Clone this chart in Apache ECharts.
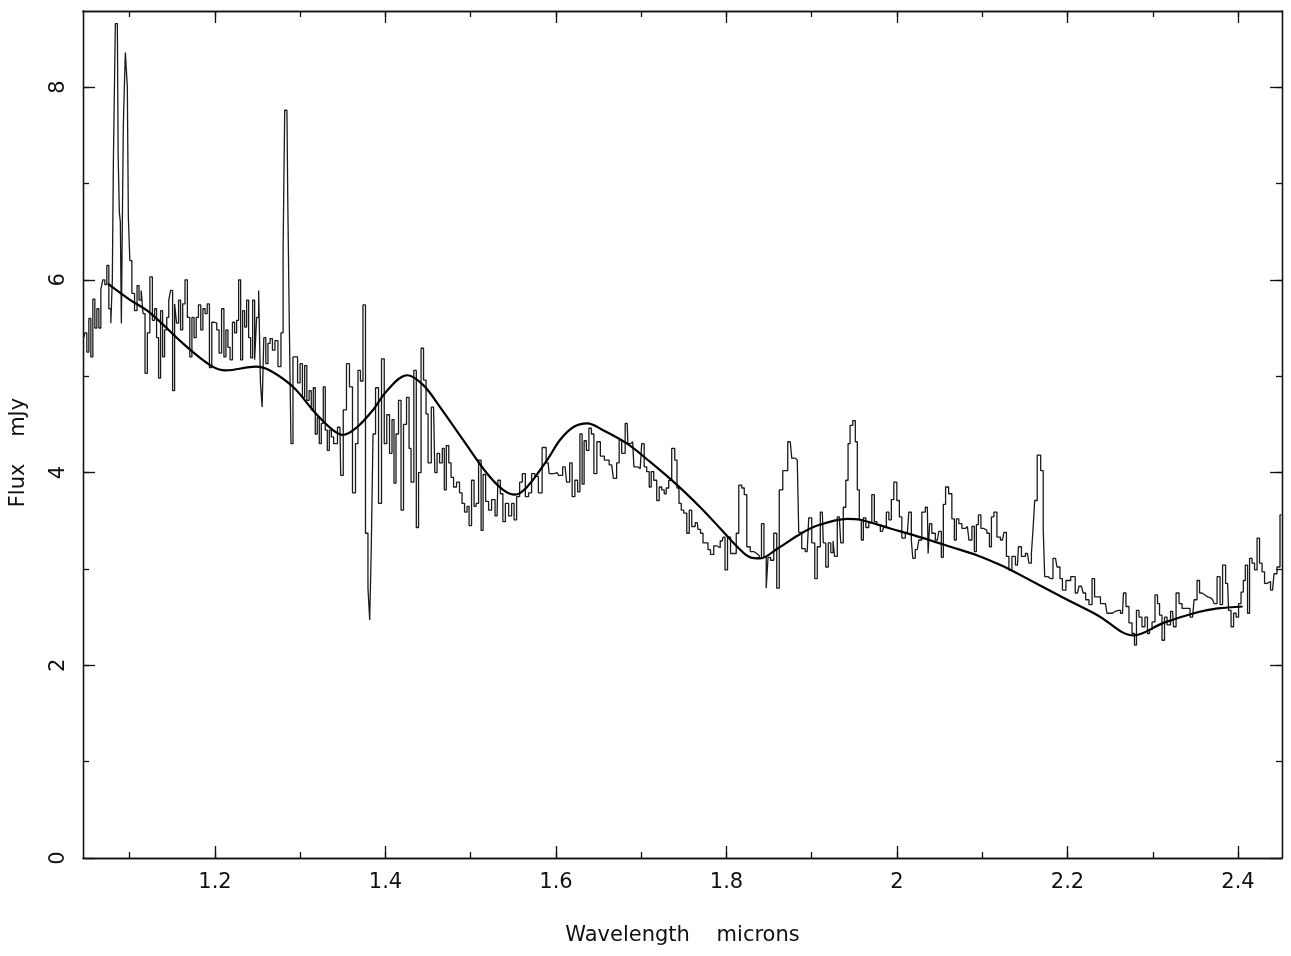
<!DOCTYPE html>
<html>
<head>
<meta charset="utf-8">
<script src="https://cdn.jsdelivr.net/npm/echarts@6/dist/echarts.min.js"></script>
<style>
html,body{margin:0;padding:0;background:#fff;}
#chart{width:1291px;height:956px;}
</style>
</head>
<body>
<div id="chart"></div>
<script>
// Observed spectrum (histogram bins): wavelength (microns) and flux (mJy)
const specWave = [
1.0462,1.0485,1.0509,1.0532,1.0556,1.0579,1.0603,1.0626,1.0650,1.0673,1.0696,1.0720,1.0743,1.0767,1.0790,1.0802,
1.0814,1.0826,1.0837,1.0855,1.0873,1.0884,1.0896,1.0908,1.0919,1.0931,1.0943,1.0955,1.0966,1.0978,1.0990,1.1013,1.1037,
1.1076,1.1096,1.1123,1.1146,1.1166,1.1193,1.1221,1.1252,1.1280,1.1303,1.1327,1.1350,1.1374,1.1397,1.1421,1.1448,1.1468,
1.1491,1.1515,1.1538,1.1561,1.1585,1.1608,1.1635,1.1662,1.1691,1.1718,1.1741,1.1768,1.1792,1.1820,1.1847,1.1870,1.1897,
1.1921,1.1949,1.1976,1.2008,1.2034,1.2062,1.2093,1.2117,1.2140,1.2164,1.2191,1.2219,1.2242,1.2266,1.2289,1.2313,1.2336,
1.2360,1.2383,1.2407,1.2430,1.2454,1.2477,1.2500,1.2524,1.2543,1.2563,1.2583,1.2610,1.2633,1.2660,1.2688,1.2719,1.2759,
1.2789,1.2809,1.2827,1.2844,1.2862,1.2880,1.2903,1.2927,1.2953,1.2985,1.3012,1.3040,1.3064,1.3091,1.3118,1.3141,1.3165,
1.3188,1.3212,1.3235,1.3259,1.3282,1.3306,1.3329,1.3353,1.3376,1.3408,1.3466,1.3484,1.3525,1.3560,1.3595,1.3631,1.3666,
1.3689,1.3724,1.3748,1.3783,1.3806,1.3824,1.3842,1.3866,1.3901,1.3936,1.3971,1.4000,1.4030,1.4065,1.4088,1.4112,1.4135,
1.4171,1.4194,1.4229,1.4265,1.4288,1.4312,1.4353,1.4370,1.4406,1.4429,1.4464,1.4488,1.4511,1.4564,1.4593,1.4617,1.4652,
1.4681,1.4699,1.4728,1.4757,1.4781,1.4816,1.4851,1.4886,1.4910,1.4945,1.4969,1.4992,1.5027,1.5051,1.5074,1.5110,1.5133,
1.5157,1.5192,1.5227,1.5262,1.5309,1.5327,1.5368,1.5386,1.5427,1.5462,1.5497,1.5520,1.5556,1.5591,1.5620,1.5661,1.5696,
1.5732,1.5773,1.5814,1.5861,1.5908,1.5931,1.5978,1.6013,1.6049,1.6107,1.6143,1.6178,1.6201,1.6242,1.6266,1.6295,1.6318,
1.6342,1.6371,1.6401,1.6430,1.6459,1.6500,1.6541,1.6594,1.6653,1.6694,1.6729,1.6753,1.6788,1.6835,1.6852,1.6899,1.6929,
1.6988,1.7023,1.7046,1.7082,1.7105,1.7129,1.7164,1.7199,1.7223,1.7258,1.7281,1.7305,1.7340,1.7375,1.7411,1.7428,1.7458,
1.7481,1.7516,1.7552,1.7575,1.7610,1.7657,1.7675,1.7716,1.7733,1.7774,1.7792,1.7833,1.7868,1.7903,1.7950,1.7968,1.7997,
1.8027,1.8068,1.8103,1.8126,1.8162,1.8197,1.8220,1.8256,1.8302,1.8337,1.8372,1.8396,1.8425,1.8454,1.8478,1.8496,1.8537,
1.8572,1.8607,1.8631,1.8689,1.8748,1.8783,1.8830,1.8865,1.8900,1.8947,1.8982,1.9018,1.9053,1.9077,1.9124,1.9147,1.9182,
1.9206,1.9241,1.9259,1.9276,1.9323,1.9358,1.9382,1.9417,1.9435,1.9464,1.9499,1.9523,1.9546,1.9570,1.9593,1.9617,1.9652,
1.9687,1.9722,1.9746,1.9781,1.9828,1.9863,1.9887,1.9922,1.9945,1.9980,2.0016,2.0039,2.0074,2.0121,2.0156,2.0180,2.0191,
2.0238,2.0274,2.0309,2.0356,2.0374,2.0391,2.0426,2.0473,2.0508,2.0532,2.0555,2.0585,2.0626,2.0661,2.0685,2.0708,2.0743,
2.0779,2.0826,2.0861,2.0896,2.0919,2.0943,2.0967,2.1002,2.1037,2.1072,2.1096,2.1119,2.1154,2.1190,2.1237,2.1272,2.1295,
2.1330,2.1366,2.1413,2.1436,2.1483,2.1530,2.1565,2.1588,2.1606,2.1624,2.1665,2.1706,2.1724,2.1741,2.1800,2.1859,2.1894,
2.1929,2.1952,2.2011,2.2064,2.2117,2.2152,2.2175,2.2193,2.2234,2.2269,2.2307,2.2328,2.2363,2.2410,2.2445,2.2480,2.2527,
2.2562,2.2598,2.2645,2.2668,2.2703,2.2739,2.2774,2.2797,2.2821,2.2856,2.2891,2.2926,2.2950,2.2974,2.3009,2.3044,2.3068,
2.3091,2.3126,2.3150,2.3185,2.3232,2.3256,2.3291,2.3326,2.3361,2.3408,2.3467,2.3502,2.3537,2.3561,2.3596,2.3631,2.3655,
2.3702,2.3737,2.3772,2.3807,2.3831,2.3878,2.3901,2.3936,2.3960,2.3995,2.4018,2.4053,2.4071,2.4100,2.4124,2.4147,2.4182,
2.4206,2.4241,2.4264,2.4300,2.4323,2.4358,2.4405,2.4440,2.4475,2.4510
];
const specFlux = [
5.40,5.45,5.25,5.60,5.20,5.80,5.50,5.70,5.50,5.90,6.00,5.95,6.15,5.70,5.55,6.00,
7.20,7.95,8.66,8.66,7.30,6.70,6.60,5.55,6.60,7.60,8.00,8.36,8.36,8.00,6.65,6.20,5.86,
5.68,5.94,5.79,5.89,5.65,5.03,5.45,6.03,5.58,5.70,5.40,4.98,5.68,5.20,5.48,5.61,5.79,
5.89,4.85,5.75,5.55,5.79,5.48,5.75,6.00,5.61,5.20,5.61,5.40,5.61,5.74,5.48,5.70,5.65,
5.75,5.09,5.56,5.55,5.48,5.24,5.70,5.20,5.48,5.30,5.17,5.56,5.45,5.58,6.00,5.17,5.68,
5.51,5.79,5.40,5.19,5.79,5.17,5.61,5.89,4.93,4.68,5.40,5.13,5.34,5.39,5.27,5.37,5.10,
5.45,6.30,7.76,7.76,6.90,5.60,4.30,5.20,5.20,4.93,5.13,4.78,5.11,4.75,4.85,4.65,4.88,
4.40,4.57,4.30,4.51,4.89,4.44,4.23,4.44,4.37,4.30,4.47,3.97,4.65,5.13,4.89,3.79,4.30,
5.06,4.95,5.74,3.37,2.80,2.47,3.20,4.40,4.88,3.68,5.18,4.30,4.60,4.20,4.55,3.89,4.40,
4.75,3.61,4.50,4.78,4.25,3.90,5.06,3.43,4.00,5.29,4.96,4.61,4.10,4.68,4.00,4.20,4.10,
4.25,3.82,4.28,4.10,3.95,3.85,3.90,3.79,3.68,3.59,3.65,3.45,3.92,3.65,3.68,4.13,3.40,
3.98,3.70,3.61,3.72,3.55,3.92,3.78,3.49,3.68,3.55,3.68,3.51,3.75,3.90,3.99,3.75,3.79,
3.99,3.96,3.79,4.26,4.10,3.99,3.99,4.00,3.97,4.06,3.90,4.10,3.75,3.92,3.80,4.40,3.88,
4.33,4.23,4.46,4.40,3.99,4.32,4.17,4.13,4.08,3.94,4.10,4.34,4.20,4.51,4.30,4.32,4.06,
4.04,4.30,4.06,4.01,3.85,4.01,3.92,3.71,3.85,3.82,3.78,3.84,3.92,4.25,4.13,3.84,3.68,
3.61,3.58,3.37,3.61,3.44,3.48,3.41,3.37,3.27,3.27,3.20,3.15,3.24,3.22,3.29,3.33,2.99,
3.33,3.16,3.16,3.37,3.87,3.84,3.77,3.23,3.18,3.16,3.14,3.11,3.47,3.12,2.80,3.12,3.09,
3.37,2.80,3.82,4.02,4.32,4.15,4.13,3.38,3.21,3.18,3.53,3.27,2.90,3.23,3.59,3.27,3.02,
3.27,3.17,3.29,3.13,3.54,3.27,3.64,3.92,4.30,4.49,4.54,4.32,3.82,3.51,3.30,3.53,3.43,
3.48,3.77,3.49,3.46,3.39,3.44,3.59,3.51,3.72,3.90,3.71,3.54,3.32,3.37,3.59,3.30,3.11,
3.20,3.30,3.59,3.64,3.16,3.47,3.37,3.30,3.39,3.12,3.67,3.85,3.78,3.52,3.30,3.52,3.47,
3.42,3.44,3.30,3.44,3.18,3.46,3.56,3.42,3.40,3.37,3.23,3.54,3.59,3.33,3.30,3.38,3.13,
2.99,3.13,3.04,3.23,3.13,3.16,3.06,3.16,3.43,3.71,4.18,4.02,3.42,2.92,2.90,3.11,3.02,
2.90,2.78,2.88,2.92,2.75,2.82,2.84,2.75,2.68,2.63,2.90,2.71,2.71,2.64,2.64,2.54,2.54,
2.56,2.57,2.54,2.75,2.61,2.44,2.33,2.21,2.57,2.50,2.40,2.50,2.33,2.37,2.45,2.73,2.64,
2.52,2.26,2.50,2.42,2.56,2.40,2.75,2.64,2.59,2.59,2.50,2.68,2.88,2.75,2.73,2.71,2.70,
2.68,2.64,2.92,2.63,3.04,2.85,2.57,2.40,2.54,2.50,2.64,2.76,2.88,3.04,2.54,3.11,3.06,
2.99,3.32,3.06,2.97,2.85,2.87,2.78,2.95,3.02,3.56
];
// Smooth model curve
const modelWave = [1.0743,1.0990,1.1236,1.1624,1.1952,1.2128,1.2480,1.2645,1.2915,1.3185,1.3384,1.3502,1.3666,1.3854,
1.4018,1.4253,1.4441,1.4640,1.4910,1.5192,1.5380,1.5520,1.5661,1.5896,1.6049,1.6201,1.6366,1.6553,1.6835,1.7105,1.7422,
1.7692,1.7927,1.8126,1.8279,1.8396,1.8596,1.8842,1.9065,1.9417,1.9570,1.9922,2.0309,2.0626,2.0943,2.1213,2.1483,2.1952,
2.2351,2.2774,2.3126,2.3525,2.3760,2.4053];
const modelFlux = [5.96,5.80,5.66,5.34,5.11,5.06,5.10,5.06,4.89,4.61,4.44,4.39,4.47,4.65,
4.85,5.01,4.91,4.68,4.34,3.99,3.82,3.77,3.85,4.13,4.34,4.47,4.51,4.44,4.30,4.11,3.87,
3.64,3.42,3.23,3.12,3.11,3.21,3.35,3.45,3.52,3.51,3.42,3.32,3.23,3.14,3.04,2.92,2.70,
2.52,2.31,2.44,2.55,2.59,2.61];
// Ticks
const xMajorTicks = [1.2,1.4,1.6,1.8,2,2.2,2.4];
const xMinorTicks = [1.1,1.2,1.3,1.4,1.5,1.6,1.7,1.8,1.9,2,2.1,2.2,2.3,2.4];
const yMajorTicks = [0,2,4,6,8];
const yMinorTicks = [1,2,3,4,5,6,7,8];
const xName = 'Wavelength    microns';
const yName = 'Flux    mJy';

const XMIN = 1.0452, XMAX = 2.4516, YMIN = 0, YMAX = 8.79;
const FONT = 'DejaVu Sans';
const INK = '#111';

function xAx(pos, ticks, len, opts) {
  return Object.assign({
    type: 'value', position: pos, min: XMIN, max: XMAX,
    axisLine: {show: true, onZero: false, lineStyle: {color: INK, width: 1.3}},
    axisTick: {show: true, inside: true, length: len, customValues: ticks, lineStyle: {color: INK, width: 1.3}},
    axisLabel: {show: false},
    splitLine: {show: false}
  }, opts || {});
}
function yAx(pos, ticks, len, opts) {
  return Object.assign({
    type: 'value', position: pos, min: YMIN, max: YMAX,
    axisLine: {show: true, onZero: false, lineStyle: {color: INK, width: 1.3}},
    axisTick: {show: true, inside: true, length: len, customValues: ticks, lineStyle: {color: INK, width: 1.3}},
    axisLabel: {show: false},
    splitLine: {show: false}
  }, opts || {});
}

const chart = echarts.init(document.getElementById('chart'), null, {renderer: 'canvas'});
chart.setOption({
  animation: false,
  backgroundColor: '#fff',
  grid: {left: 83, right: 9, top: 11, bottom: 98, containLabel: false},
  xAxis: [
    xAx('bottom', xMajorTicks, 12, {
      axisLabel: {show: true, customValues: xMajorTicks, margin: 14, fontFamily: FONT, fontSize: 21, color: INK,
        formatter: v => String(+v.toFixed(1))},
      name: xName, nameLocation: 'middle', nameGap: 67,
      nameTextStyle: {fontFamily: FONT, fontSize: 21, color: INK}
    }),
    xAx('bottom', xMinorTicks, 6),
    xAx('top', xMajorTicks, 12),
    xAx('top', xMinorTicks, 6)
  ],
  yAxis: [
    yAx('left', yMajorTicks, 12, {
      axisLabel: {show: true, customValues: yMajorTicks, rotate: 90, margin: 14, fontFamily: FONT, fontSize: 21, color: INK},
      name: yName, nameLocation: 'middle', nameGap: 54, nameRotate: 90,
      nameTextStyle: {fontFamily: FONT, fontSize: 21, color: INK, padding: [0, 36, 0, 0]}
    }),
    yAx('left', yMinorTicks, 6),
    yAx('right', yMajorTicks, 12),
    yAx('right', yMinorTicks, 6)
  ],
  series: [
    {
      type: 'line', xAxisIndex: 0, yAxisIndex: 0, step: 'middle', symbol: 'none',
      data: specWave.map((w, i) => [w, specFlux[i]]),
      lineStyle: {color: '#1a1a1a', width: 1.3}
    },
    {
      type: 'line', xAxisIndex: 0, yAxisIndex: 0, smooth: 0.35, symbol: 'none',
      data: modelWave.map((w, i) => [w, modelFlux[i]]),
      lineStyle: {color: '#000', width: 2.2}
    }
  ]
});
</script>
</body>
</html>
